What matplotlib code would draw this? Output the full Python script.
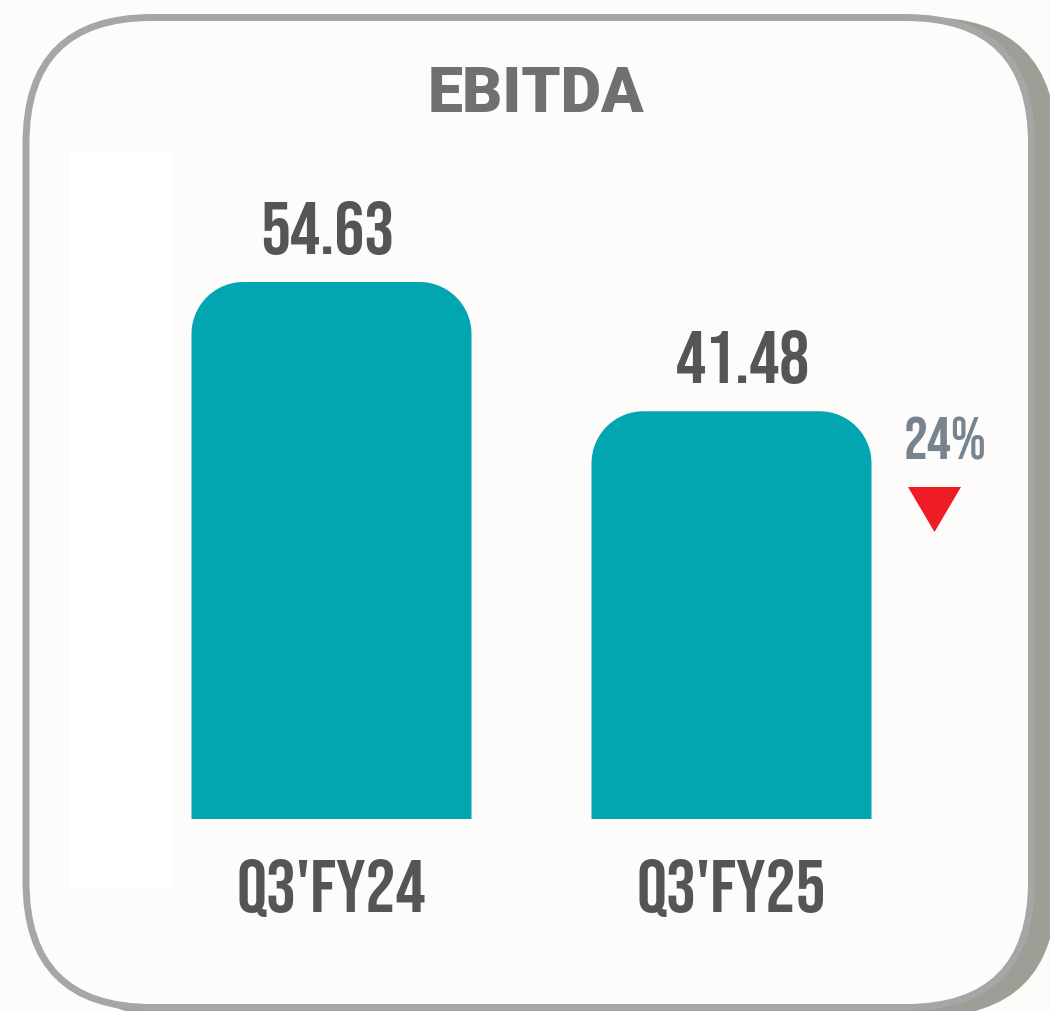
import numpy as np
import matplotlib
matplotlib.use("Agg")
import matplotlib.pyplot as plt
from matplotlib.patches import FancyBboxPatch, Rectangle, Polygon, PathPatch
from matplotlib.path import Path

# data
title = "EBITDA"
categories = ["Q3'FY24", "Q3'FY25"]
values = [54.63, 41.48]
value_labels = ["54.63", "41.48"]

W, H = 1050, 1012
BG = "#fdfcfa"
TEAL = "#02a6b1"
DARK = "#555555"
NARROW = ["Bebas Neue", "Liberation Sans Narrow", "DejaVu Sans"]
HEAVY = ["Roboto", "DejaVu Sans"]

fig = plt.figure(figsize=(W / 100, H / 100), dpi=100)
fig.patch.set_facecolor(BG)

# card in pixel coords
bg = fig.add_axes([0, 0, 1, 1], zorder=0)
bg.set_xlim(0, W)
bg.set_ylim(H, 0)
bg.axis("off")

shadow = FancyBboxPatch((44, 18), 1013, 1000,
                        boxstyle="round,pad=0,rounding_size=132",
                        facecolor="#9d9e96", edgecolor="none")
bg.add_patch(shadow)
card = FancyBboxPatch((26, 18.5), 1005.5, 990,
                      boxstyle="round,pad=0,rounding_size=126",
                      facecolor=BG, edgecolor="#a6a6a6", linewidth=5.0)
bg.add_patch(card)
bg.add_patch(Rectangle((70, 153), 103, 737, facecolor="white", edgecolor="none"))

bg.text(536, 112, title, ha="center", va="baseline", fontsize=45,
        fontweight=900, family=HEAVY, color="#707070")

# bars
ax = fig.add_axes([0, 0, 1, 1], zorder=1)
ax.patch.set_alpha(0)
px_x, px_y = 400.0, 9.83
ax.set_xlim(-331.5 / px_x, (W - 331.5) / px_x)
ax.set_ylim(-192 / px_y, (H - 192) / px_y)
ax.axis("off")

x = np.arange(len(categories))
bars = ax.bar(x, values, width=0.7, color=TEAL)

r = 52.0
rx, ry = r / px_x, r / px_y
t = np.linspace(0, np.pi / 2, 20)
for b in bars:
    x0, w, h = b.get_x(), b.get_width(), b.get_height()
    b.set_visible(False)
    left_arc = np.column_stack([x0 + rx - rx * np.cos(t), h - ry + ry * np.sin(t)])
    right_arc = np.column_stack([x0 + w - rx + rx * np.sin(t), h - ry + ry * np.cos(t)])
    verts = np.vstack([[x0, 0], left_arc, right_arc, [x0 + w, 0], [x0, 0]])
    ax.add_patch(PathPatch(Path(verts), facecolor=TEAL, edgecolor="none"))

label_dx = [-3, 8]   # value labels sit slightly off-centre in the original
for xi, v, lab, cat, dx in zip(x, values, value_labels, categories, label_dx):
    ax.annotate(lab, (xi, v), xytext=(dx, 21), textcoords="offset points",
                ha="center", va="baseline", fontsize=54,
                family=NARROW, color=DARK)
    ax.annotate(cat, (xi, 0), xytext=(0, -66), textcoords="offset points",
                ha="center", va="baseline", fontsize=54,
                family=NARROW, color=DARK)

# change marker
change = round((values[0] - values[1]) / values[0] * 100)
bg.text(945, 460, f"{change}%", ha="center", va="baseline", fontsize=43,
        family=NARROW, color="#77848f")
bg.add_patch(Polygon([[908, 488], [961, 488], [934.5, 533]], closed=True,
                     facecolor="#ee1c25", edgecolor="none"))

fig.savefig("out.png", dpi=100, facecolor=BG)
